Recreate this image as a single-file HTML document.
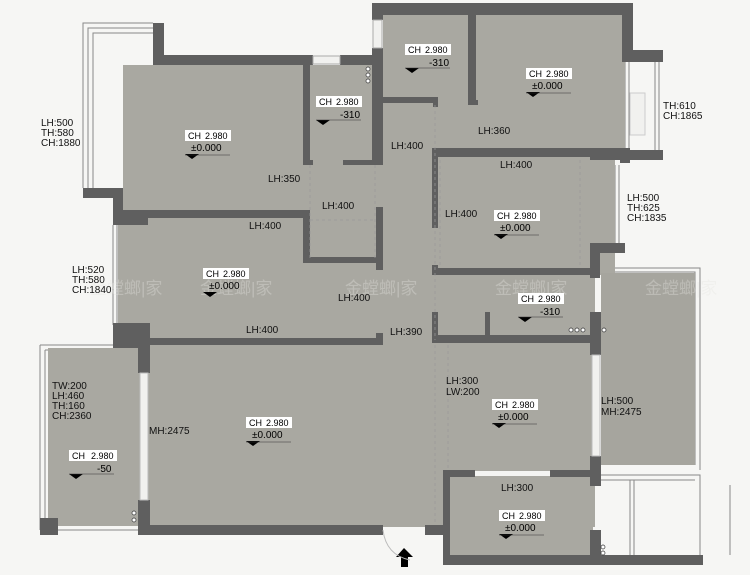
<!DOCTYPE html>
<html><head><meta charset="utf-8"><style>
html,body{margin:0;padding:0;background:#f6f6f4;}
svg{display:block;font-family:"Liberation Sans","Noto Sans CJK SC",sans-serif;}
.l{font-size:10px;fill:#111;}
</style></head><body>
<svg width="750" height="575" viewBox="0 0 750 575" xmlns="http://www.w3.org/2000/svg">
<rect width="750" height="575" fill="#f6f6f4"/>
<g fill="none" stroke="#888" stroke-width="1">
<path d="M83 188V23H153M88 188V28H153M93 188V33H153"/>
<path d="M40 345V530M45 350V525M40 530H138M40 345H113M45 350H113"/>
<path d="M600 268H700V470M600 272H695V465"/>
<path d="M600 475H700V560M600 480H695M630 480V555M634 480V555M730 485V555"/>
<path d="M625 62V153M629 62V153M655 62V153M659 62V153"/>
<path d="M615 165V245M619 165V245"/>
<path d="M113 225V325M117 225V325"/>
</g>
<g fill="#a9a8a1">
<rect x="123" y="65" width="187" height="150"/>
<rect x="310" y="65" width="65" height="100"/>
<rect x="383" y="15" width="90" height="90"/>
<rect x="473" y="15" width="152" height="140"/>
<rect x="305" y="100" width="170" height="425"/>
<rect x="435" y="150" width="180" height="125"/>
<rect x="118" y="210" width="270" height="130"/>
<rect x="435" y="275" width="160" height="60"/>
<rect x="148" y="335" width="447" height="192"/>
<rect x="48" y="348" width="92" height="178"/>
<rect x="448" y="470" width="145" height="92"/>
<rect x="601" y="273" width="94" height="192" fill="#a6a59e"/>
</g>
<rect x="630" y="93" width="15" height="42" fill="#f1f1ef" stroke="#ccc"/>
<g fill="#5f5f5f">
<rect x="153" y="23" width="11" height="42"/>
<rect x="153" y="55" width="160" height="10"/>
<rect x="340" y="55" width="32" height="10"/>
<rect x="303" y="62" width="7" height="103"/>
<rect x="303" y="160" width="10" height="5"/>
<rect x="343" y="160" width="33" height="5"/>
<rect x="372" y="3" width="11" height="17"/>
<rect x="372" y="48" width="11" height="117"/>
<rect x="372" y="3" width="261" height="12"/>
<rect x="622" y="3" width="11" height="58"/>
<rect x="622" y="50" width="41" height="12"/>
<rect x="383" y="97" width="55" height="6"/>
<rect x="433" y="97" width="5" height="10"/>
<rect x="468" y="15" width="8" height="90"/>
<rect x="468" y="100" width="10" height="5"/>
<rect x="432" y="148" width="6" height="80"/>
<rect x="432" y="148" width="198" height="9"/>
<rect x="590" y="150" width="73" height="10"/>
<rect x="620" y="153" width="10" height="10"/>
<rect x="590" y="243" width="35" height="10"/>
<rect x="590" y="243" width="10" height="35"/>
<rect x="432" y="268" width="168" height="7"/>
<rect x="432" y="265" width="6" height="10"/>
<rect x="432" y="312" width="6" height="30"/>
<rect x="432" y="335" width="165" height="8"/>
<rect x="485" y="312" width="5" height="25"/>
<rect x="590" y="312" width="11" height="43"/>
<rect x="83" y="188" width="40" height="10"/>
<rect x="113" y="188" width="10" height="37"/>
<rect x="113" y="210" width="195" height="8"/>
<rect x="113" y="210" width="35" height="15"/>
<rect x="303" y="210" width="7" height="52"/>
<rect x="303" y="257" width="80" height="6"/>
<rect x="376" y="207" width="7" height="63"/>
<rect x="113" y="323" width="37" height="25"/>
<rect x="138" y="323" width="12" height="50"/>
<rect x="148" y="338" width="235" height="7"/>
<rect x="376" y="333" width="7" height="10"/>
<rect x="138" y="500" width="12" height="35"/>
<rect x="138" y="525" width="245" height="10"/>
<rect x="425" y="525" width="25" height="10"/>
<rect x="40" y="518" width="18" height="17"/>
<rect x="590" y="456" width="11" height="30"/>
<rect x="443" y="470" width="7" height="95"/>
<rect x="443" y="470" width="32" height="7"/>
<rect x="550" y="470" width="50" height="7"/>
<rect x="443" y="555" width="260" height="10"/>
<rect x="590" y="530" width="11" height="30"/>
</g>
<rect x="140" y="373" width="8" height="127" fill="#f1f1ef" stroke="#bbb"/>
<rect x="592" y="355" width="8" height="101" fill="#f1f1ef" stroke="#bbb"/>
<rect x="475" y="471" width="75" height="5" fill="#f4f4f2"/>
<rect x="313" y="56" width="27" height="8" fill="#f1f1ef" stroke="#aaa"/>
<rect x="373" y="20" width="9" height="28" fill="#f1f1ef" stroke="#aaa"/>
<g stroke="#999" stroke-dasharray="3,3" fill="none" stroke-width="0.7">
<path d="M310 165V258M375 165V258M310 220H375M440 160V268M580 160V268M435 105V340M435 345V525M448 345V470"/>
</g>
<path d="M404 548 L396 557 H401 V567 H408 V557 H413 Z" fill="#000"/>
<path d="M383 530 Q386 555 410 560" fill="none" stroke="#bbb"/>
<g fill="#e6e6e2" opacity="0.35" font-size="17">
<text x="90" y="294">金螳螂|家</text><text x="200" y="294">金螳螂|家</text><text x="345" y="294">金螳螂|家</text><text x="495" y="294">金螳螂|家</text><text x="645" y="294">金螳螂|家</text>
</g>
<g class="l">
<text x="41" y="126">LH:500</text><text x="41" y="136">TH:580</text><text x="41" y="146">CH:1880</text>
<text x="268" y="182">LH:350</text><text x="322" y="209">LH:400</text>
<text x="249" y="229">LH:400</text><text x="391" y="149">LH:400</text>
<text x="478" y="134">LH:360</text><text x="500" y="168">LH:400</text><text x="445" y="217">LH:400</text>
<text x="663" y="109">TH:610</text><text x="663" y="119">CH:1865</text>
<text x="627" y="201">LH:500</text><text x="627" y="211">TH:625</text><text x="627" y="221">CH:1835</text>
<text x="72" y="273">LH:520</text><text x="72" y="283">TH:580</text><text x="72" y="293">CH:1840</text>
<text x="338" y="301">LH:400</text><text x="246" y="333">LH:400</text><text x="390" y="335">LH:390</text>
<text x="52" y="389">TW:200</text><text x="52" y="399">LH:460</text><text x="52" y="409">TH:160</text><text x="52" y="419">CH:2360</text>
<text x="149" y="434">MH:2475</text>
<text x="446" y="384">LH:300</text><text x="446" y="395">LW:200</text>
<text x="601" y="404">LH:500</text><text x="601" y="415">MH:2475</text>
<text x="501" y="491">LH:300</text>
</g>
<g font-size="9">
<g transform="translate(185,130)"><rect width="46" height="11" fill="#fff"/><text x="3" y="9">CH</text><text x="20" y="9">2.980</text><text x="6" y="21" font-size="10">±0.000</text><path d="M0 24h14l-7 5z"/><path d="M0 25H45" stroke="#333" stroke-width=".5"/></g>
<g transform="translate(316,96)"><rect width="46" height="11" fill="#fff"/><text x="3" y="9">CH</text><text x="20" y="9">2.980</text><text x="24" y="22" font-size="10">-310</text><path d="M0 24h14l-7 5z"/><path d="M0 24H45" stroke="#333" stroke-width=".5"/></g>
<g transform="translate(405,44)"><rect width="46" height="11" fill="#fff"/><text x="3" y="9">CH</text><text x="20" y="9">2.980</text><text x="24" y="22" font-size="10">-310</text><path d="M0 24h14l-7 5z"/><path d="M0 24H45" stroke="#333" stroke-width=".5"/></g>
<g transform="translate(526,68)"><rect width="46" height="11" fill="#fff"/><text x="3" y="9">CH</text><text x="20" y="9">2.980</text><text x="6" y="21" font-size="10">±0.000</text><path d="M0 24h14l-7 5z"/><path d="M0 25H45" stroke="#333" stroke-width=".5"/></g>
<g transform="translate(494,210)"><rect width="46" height="11" fill="#fff"/><text x="3" y="9">CH</text><text x="20" y="9">2.980</text><text x="6" y="21" font-size="10">±0.000</text><path d="M0 24h14l-7 5z"/><path d="M0 25H45" stroke="#333" stroke-width=".5"/></g>
<g transform="translate(203,268)"><rect width="46" height="11" fill="#fff"/><text x="3" y="9">CH</text><text x="20" y="9">2.980</text><text x="6" y="21" font-size="10">±0.000</text><path d="M0 24h14l-7 5z"/></g>
<g transform="translate(518,293)"><rect width="46" height="11" fill="#fff"/><text x="3" y="9">CH</text><text x="20" y="9">2.980</text><text x="22" y="22" font-size="10">-310</text><path d="M0 24h14l-7 5z"/><path d="M0 24H45" stroke="#333" stroke-width=".5"/></g>
<g transform="translate(246,417)"><rect width="46" height="11" fill="#fff"/><text x="3" y="9">CH</text><text x="20" y="9">2.980</text><text x="6" y="21" font-size="10">±0.000</text><path d="M0 24h14l-7 5z"/><path d="M0 25H45" stroke="#333" stroke-width=".5"/></g>
<g transform="translate(492,399)"><rect width="46" height="11" fill="#fff"/><text x="3" y="9">CH</text><text x="20" y="9">2.980</text><text x="6" y="21" font-size="10">±0.000</text><path d="M0 24h14l-7 5z"/><path d="M0 25H45" stroke="#333" stroke-width=".5"/></g>
<g transform="translate(69,450)"><rect width="48" height="11" fill="#fff"/><text x="3" y="9">CH</text><text x="22" y="9">2.980</text><text x="28" y="22" font-size="10">-50</text><path d="M0 24h14l-7 5z"/><path d="M0 24H45" stroke="#333" stroke-width=".5"/></g>
<g transform="translate(499,510)"><rect width="46" height="11" fill="#fff"/><text x="3" y="9">CH</text><text x="20" y="9">2.980</text><text x="6" y="21" font-size="10">±0.000</text><path d="M0 24h14l-7 5z"/><path d="M0 25H45" stroke="#333" stroke-width=".5"/></g>
</g>
<g fill="#fff" stroke="#333" stroke-width=".7">
<circle cx="368" cy="69" r="2"/><circle cx="368" cy="75" r="2"/><circle cx="368" cy="81" r="2"/>
<circle cx="571" cy="330" r="2"/><circle cx="577" cy="330" r="2"/><circle cx="583" cy="330" r="2"/><circle cx="604" cy="330" r="2"/>
<circle cx="134" cy="513" r="2"/><circle cx="134" cy="520" r="2"/>
<circle cx="603" cy="547" r="2"/><circle cx="603" cy="553" r="2"/>
</g>
</svg>
</body></html>
